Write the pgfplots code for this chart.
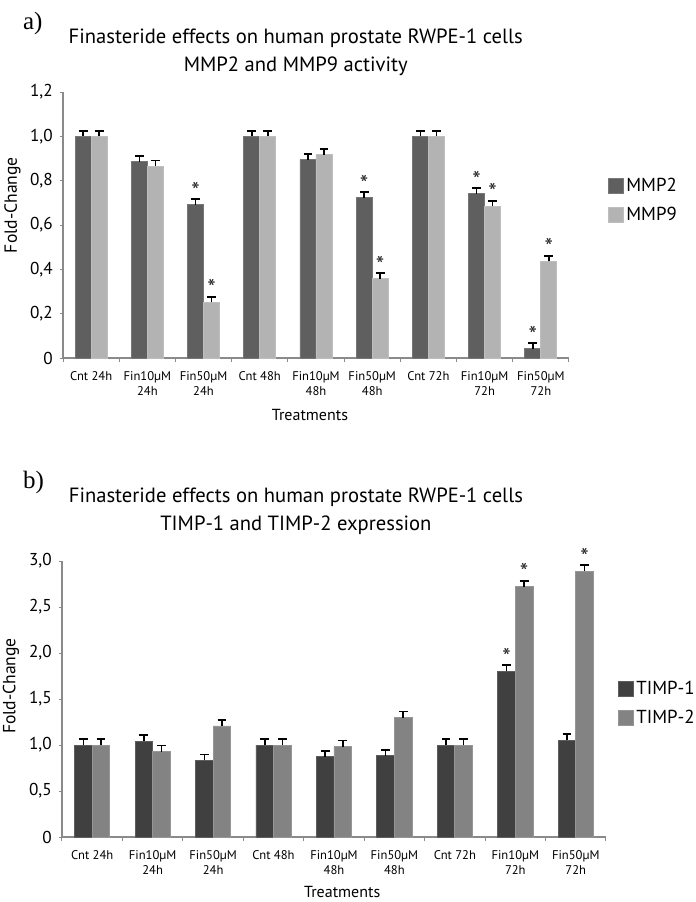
\documentclass[border=0pt]{standalone}
\usepackage{pgfplots}
\usepackage{pgfplotstable}
\pgfplotsset{compat=1.18}
\usepackage{fontspec}
\setmainfont{PT Sans}
\newfontfamily\seriffont{Liberation Serif}
\definecolor{mmptwo}{HTML}{5F5F5F}
\definecolor{mmpnine}{HTML}{B3B3B3}
\definecolor{timpone}{HTML}{404040}
\definecolor{timptwo}{HTML}{838383}
\definecolor{axgray}{HTML}{8A8A8A}

% panel a: MMP2 / MMP9 activity (fold change)
\pgfplotstableread{
x y e s
0 1.000 0.025 0
1 0.886 0.025 0
2 0.692 0.025 1
3 1.000 0.025 0
4 0.895 0.025 0
5 0.723 0.025 1
6 1.000 0.025 0
7 0.741 0.025 1
8 0.042 0.025 1
}\mmpA
\pgfplotstableread{
x y e s
0 1.000 0.025 0
1 0.866 0.025 0
2 0.251 0.025 1
3 1.000 0.025 0
4 0.917 0.025 0
5 0.358 0.025 1
6 1.000 0.025 0
7 0.684 0.025 1
8 0.436 0.025 1
}\mmpB
% panel b: TIMP-1 / TIMP-2 expression (fold change)
\pgfplotstableread{
x y e s
0 1.000 0.065 0
1 1.043 0.065 0
2 0.833 0.065 0
3 1.000 0.065 0
4 0.873 0.065 0
5 0.882 0.065 0
6 1.000 0.065 0
7 1.804 0.065 1
8 1.054 0.065 0
}\timpA
\pgfplotstableread{
x y e s
0 1.000 0.065 0
1 0.928 0.065 0
2 1.207 0.065 0
3 1.000 0.065 0
4 0.982 0.065 0
5 1.298 0.065 0
6 1.000 0.065 0
7 2.720 0.065 1
8 2.890 0.065 1
}\timpB

\pgfplotsset{
  common/.style={
    scale only axis,
    axis lines*=left,
    axis line style={axgray, line width=0.6pt},
    ybar=0pt,
    xmin=-0.5, xmax=8.5,
    ymin=0,
    xtick={0,...,8},
    major x tick style={draw=none},
    minor xtick={-0.5,0.5,...,8.5},
    minor x tick style={axgray, line width=0.5pt},
    minor tick length=2pt,
    major tick length=1.6pt,
    ytick style={axgray, line width=0.5pt},
    tick align=outside,
    xticklabels={Cnt 24h,{Fin10µM\\24h},{Fin50µM\\24h},Cnt 48h,{Fin10µM\\48h},{Fin50µM\\48h},Cnt 72h,{Fin10µM\\72h},{Fin50µM\\72h}},
    x tick label style={font=\fontsize{6.3}{7.5}\selectfont, align=center, yshift=-1.5pt},
    y tick label style={font=\fontsize{8.6}{9}\selectfont},
    xlabel={Treatments},
    ylabel={Fold-Change},
    xlabel style={font=\fontsize{8}{9}\selectfont},
    ylabel style={font=\fontsize{8.8}{9}\selectfont},
    title style={font=\fontsize{10.3}{14}\selectfont, align=center, anchor=center, yshift=0pt},
    legend style={draw=none, fill=none, anchor=north west, font=\fontsize{9.4}{10}\selectfont,
      inner sep=0pt, row sep=4pt, nodes={inner sep=1.2pt}},
    legend cell align=left,
    legend image code/.code={\fill[##1] (0pt,-3.7pt) rectangle (7.4pt,3.7pt);},
  },
  errs/.style={
    error bars/y dir=plus,
    error bars/y explicit,
    error bars/error bar style={black, line width=0.8pt},
    error bars/error mark options={rotate=90, black, line width=0.8pt, mark size=2.2pt},
  },
  stars/.style={
    point meta=explicit symbolic,
    nodes near coords={\ifnum\pgfplotspointmeta=1 *\fi},
    every node near coord/.append style={font=\fontsize{12}{12}\selectfont, inner sep=0pt, yshift=#1, black!85},
  },
}

\begin{document}
\begin{tikzpicture}
\path[use as bounding box] (0,0) rectangle (348pt,-451pt);
\node[anchor=west, font=\seriffont\fontsize{12.5}{13}\selectfont] at (8pt,-11.5pt) {a)};
\node[anchor=west, font=\seriffont\fontsize{12.5}{13}\selectfont] at (8pt,-241pt) {b)};

\begin{axis}[common,
  at={(31.5pt,-179pt)}, anchor=south west,
  width=253pt, height=133pt,
  ymax=1.2,
  ytick={0,0.2,...,1.2},
  yticklabels={0,{0,2},{0,4},{0,6},{0,8},{1,0},{1,2}},
  bar width=8pt,
  title={Finasteride effects on human prostate RWPE-1 cells\\MMP2 and MMP9 activity},
  title style={at={(0.46,1.105)}},
  xlabel style={at={(0.488,-0.214)}, anchor=center},
  ylabel style={at={(-0.1,0.575)}, anchor=center},
  legend style={at={(1.077,0.688)}},
]
\addplot[fill=mmptwo, draw=mmptwo!85!white, errs, stars=2.6pt] table[x=x, y=y, y error=e, meta=s] {\mmpA};
\addplot[fill=mmpnine, draw=mmpnine!85!white, errs, stars=2.6pt] table[x=x, y=y, y error=e, meta=s] {\mmpB};
\legend{MMP2, MMP9}
\end{axis}

\begin{axis}[common,
  at={(31pt,-418.5pt)}, anchor=south west,
  width=272pt, height=138pt,
  ymax=3.0,
  ytick={0,0.5,...,3.0},
  yticklabels={0,{0,5},{1,0},{1,5},{2,0},{2,5},{3,0}},
  bar width=8.8pt,
  title={Finasteride effects on human prostate RWPE-1 cells\\TIMP-1 and TIMP-2 expression},
  title style={at={(0.43,1.138)}},
  xlabel style={at={(0.515,-0.199)}, anchor=center},
  ylabel style={at={(-0.094,0.547)}, anchor=center},
  legend style={at={(1.022,0.576)}},
]
\addplot[fill=timpone, draw=timpone!85!white, errs, stars=2.8pt] table[x=x, y=y, y error=e, meta=s] {\timpA};
\addplot[fill=timptwo, draw=timptwo!85!white, errs, stars=2.8pt] table[x=x, y=y, y error=e, meta=s] {\timpB};
\legend{TIMP-1, TIMP-2}
\end{axis}
\end{tikzpicture}
\end{document}
